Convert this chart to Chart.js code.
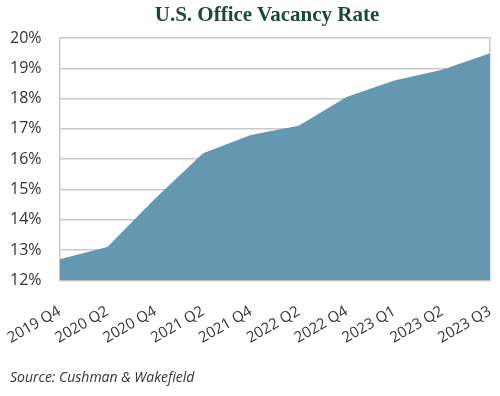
<!DOCTYPE html>
<html>
<head>
<meta charset="utf-8">
<script src="https://cdn.jsdelivr.net/npm/chart.js@4/dist/chart.umd.min.js"></script>
<style>
  html, body { margin: 0; padding: 0; background: #fff; }
  #wrap { width: 500px; height: 396px; position: relative; }
  #title {
    position: absolute; left: 17px; top: 4px; width: 500px;
    text-align: center; font: bold 21px/21px 'Liberation Serif', serif;
    color: #1d4a35;
  }
</style>
</head>
<body>
<div id="wrap">
  <div id="title"></div>
  <canvas id="chart"></canvas>
</div>
<script>
// ── Data ────────────────────────────────────────────────────
const quarters = ['2019 Q4', '2020 Q2', '2020 Q4', '2021 Q2', '2021 Q4',
                  '2022 Q2', '2022 Q4', '2023 Q1', '2023 Q2', '2023 Q3'];
const vacancyRate = [12.7, 13.1, 14.7, 16.2, 16.8, 17.1, 18.05, 18.6, 18.95, 19.5];
const yTicks = [12, 13, 14, 15, 16, 17, 18, 19, 20];

const TITLE = 'U.S. Office Vacancy Rate';
const SOURCE = 'Source: Cushman & Wakefield';

// ── Styles ─────────────────────────────────────────────────
const GRID = '#c9c9c9';
const FILL = '#6398b0';
const TEXT = '#333333';
const Y_LABEL_GAP = 18;
const X_LABEL_GAP = 14;

document.getElementById('title').textContent = TITLE;

const ctx = document.getElementById('chart').getContext('2d');
new Chart(ctx, {
  type: 'line',
  data: {
    labels: quarters,
    datasets: [{
      data: vacancyRate,
      fill: 'start',
      backgroundColor: FILL,
      borderWidth: 0,
      pointRadius: 0,
      tension: 0,
    }],
  },
  options: {
    responsive: true,
    maintainAspectRatio: false,
    animation: false,
    layout: { padding: { left: 10, right: 10, top: 38, bottom: 4 } },
    plugins: {
      legend: { display: false },
      tooltip: { enabled: false },
      title: { display: false },
      subtitle: {
        display: true,
        text: SOURCE,
        position: 'bottom',
        align: 'start',
        color: TEXT,
        font: { family: 'Open Sans', size: 14, style: 'italic' },
        padding: { top: 22, bottom: 6 },
      },
    },
    scales: {
      x: {
        offset: false,
        grid: { display: false },
        border: { display: false },
        ticks: {
          color: TEXT,
          font: { family: 'Open Sans', size: 15 },
          minRotation: 30,
          maxRotation: 30,
          padding: X_LABEL_GAP,
          autoSkip: false,
        },
        // rotated labels may hang into the left margin, as in the original
        afterFit: axis => {
          axis.paddingLeft = 0;
          axis.paddingRight = 0;
          axis.height -= X_LABEL_GAP;
        },
      },
      y: {
        min: yTicks[0],
        max: yTicks[yTicks.length - 1],
        afterBuildTicks: axis => { axis.ticks = yTicks.map(v => ({ value: v })); },
        grid: { color: GRID, lineWidth: 1.5, drawTicks: false },
        border: { display: true, color: GRID, width: 1.5 },
        ticks: {
          color: TEXT,
          font: { family: 'Open Sans', size: 16 },
          padding: Y_LABEL_GAP,
          callback: v => v + '%',
        },
        // padding is only wanted between labels and axis, not on the outer side
        afterFit: axis => { axis.width -= Y_LABEL_GAP; },
      },
      yRight: {
        position: 'right',
        min: yTicks[0],
        max: yTicks[yTicks.length - 1],
        grid: { display: false, drawTicks: false },
        border: { display: true, color: GRID, width: 1.5 },
        ticks: { display: false },
        afterFit: axis => { axis.width = 0; },
      },
    },
  },
});
</script>
</body>
</html>
